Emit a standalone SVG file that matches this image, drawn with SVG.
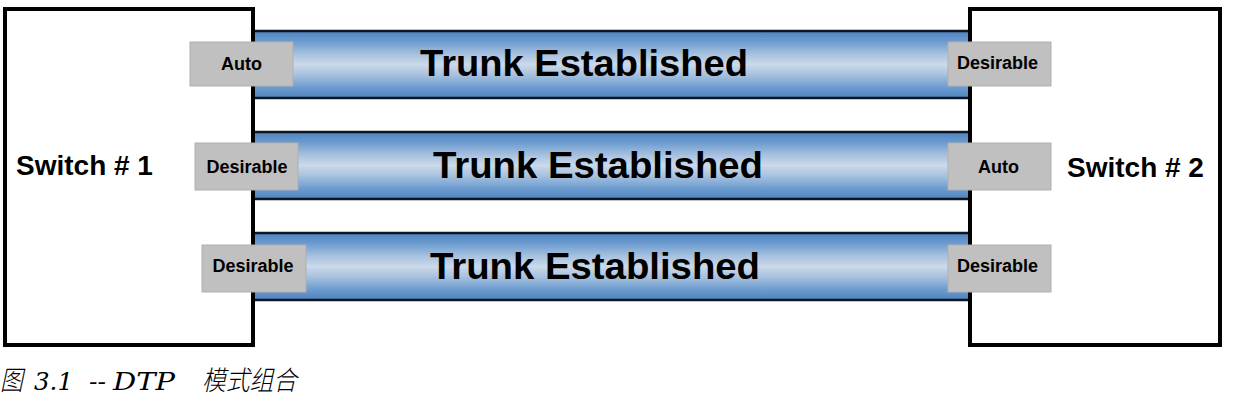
<svg xmlns="http://www.w3.org/2000/svg" width="1243" height="400" viewBox="0 0 1243 400">
<defs>
<linearGradient id="tube" x1="0" y1="0" x2="0" y2="1">
<stop offset="0" stop-color="#4f83bd"/>
<stop offset="0.15" stop-color="#6a9acf"/>
<stop offset="0.35" stop-color="#a9c2df"/>
<stop offset="0.5" stop-color="#cbd9ea"/>
<stop offset="0.65" stop-color="#a9c2df"/>
<stop offset="0.85" stop-color="#6a9acf"/>
<stop offset="1" stop-color="#4f83bd"/>
</linearGradient>
<style>
.sw{fill:#ffffff;stroke:#000;stroke-width:4}
.swt{font-family:"Liberation Sans",Arial,sans-serif;font-weight:bold;font-size:28px;fill:#000}
.tube{fill:url(#tube)}
.edge{stroke:#0d1520;stroke-width:2.5}
.tt{font-family:"Liberation Sans",Arial,sans-serif;font-weight:bold;font-size:36px;fill:#000}
.port{fill:#c0c0c0;stroke:#b0b0b0;stroke-width:1}
.pt{font-family:"Liberation Sans",Arial,sans-serif;font-weight:bold;font-size:18px;fill:#000;text-anchor:middle}
.cap{font-family:"DejaVu Serif","Noto Sans CJK SC",serif;font-style:italic;font-size:25px;fill:#000}
.cjk{font-family:"Noto Sans CJK SC",sans-serif;font-size:27px;font-weight:300}
</style>
</defs>
<rect width="1243" height="400" fill="#fff"/>
<g id="connectors">
<g id="trunk1">
<rect class="tube" x="253" y="31" width="717" height="67"/>
<line class="edge" x1="253" y1="31" x2="970" y2="31"/>
<line class="edge" x1="253" y1="98" x2="970" y2="98"/>
<text class="tt" x="420" y="76" textLength="328" lengthAdjust="spacingAndGlyphs">Trunk Established</text>
</g>
<g id="trunk2">
<rect class="tube" x="253" y="132" width="717" height="67"/>
<line class="edge" x1="253" y1="132" x2="970" y2="132"/>
<line class="edge" x1="253" y1="199" x2="970" y2="199"/>
<text class="tt" x="433" y="178" textLength="330" lengthAdjust="spacingAndGlyphs">Trunk Established</text>
</g>
<g id="trunk3">
<rect class="tube" x="253" y="233" width="717" height="67"/>
<line class="edge" x1="253" y1="233" x2="970" y2="233"/>
<line class="edge" x1="253" y1="300" x2="970" y2="300"/>
<text class="tt" x="430" y="279" textLength="330" lengthAdjust="spacingAndGlyphs">Trunk Established</text>
</g>
</g>
<g id="switch1">
<rect class="sw" x="5" y="9" width="248" height="336"/>
<text class="swt" x="16" y="175">Switch # 1</text>
</g>
<g id="switch2">
<rect class="sw" x="970" y="9" width="250" height="336"/>
<text class="swt" x="1067" y="177">Switch # 2</text>
</g>
<g id="port-s1-t1">
<rect class="port" x="190" y="42" width="103" height="44"/>
<text class="pt" x="241.5" y="70">Auto</text>
</g>
<g id="port-s1-t2">
<rect class="port" x="195" y="143" width="103" height="47"/>
<text class="pt" x="247" y="173">Desirable</text>
</g>
<g id="port-s1-t3">
<rect class="port" x="202" y="245" width="104" height="47"/>
<text class="pt" x="253" y="272">Desirable</text>
</g>
<g id="port-s2-t1">
<rect class="port" x="948" y="42" width="103" height="44"/>
<text class="pt" x="997.5" y="69">Desirable</text>
</g>
<g id="port-s2-t2">
<rect class="port" x="948" y="143" width="103" height="47"/>
<text class="pt" x="998.5" y="173">Auto</text>
</g>
<g id="port-s2-t3">
<rect class="port" x="948" y="245" width="103" height="47"/>
<text class="pt" x="997.5" y="272">Desirable</text>
</g>
<text class="cap" y="390"><tspan class="cjk" x="0" textLength="23" lengthAdjust="spacingAndGlyphs">图</tspan><tspan x="34" textLength="39" lengthAdjust="spacingAndGlyphs">3.1</tspan><tspan x="89" textLength="17" lengthAdjust="spacingAndGlyphs">--</tspan><tspan x="113" textLength="62" lengthAdjust="spacingAndGlyphs">DTP</tspan><tspan class="cjk" x="202" textLength="95" lengthAdjust="spacingAndGlyphs">模式组合</tspan></text>
</svg>
